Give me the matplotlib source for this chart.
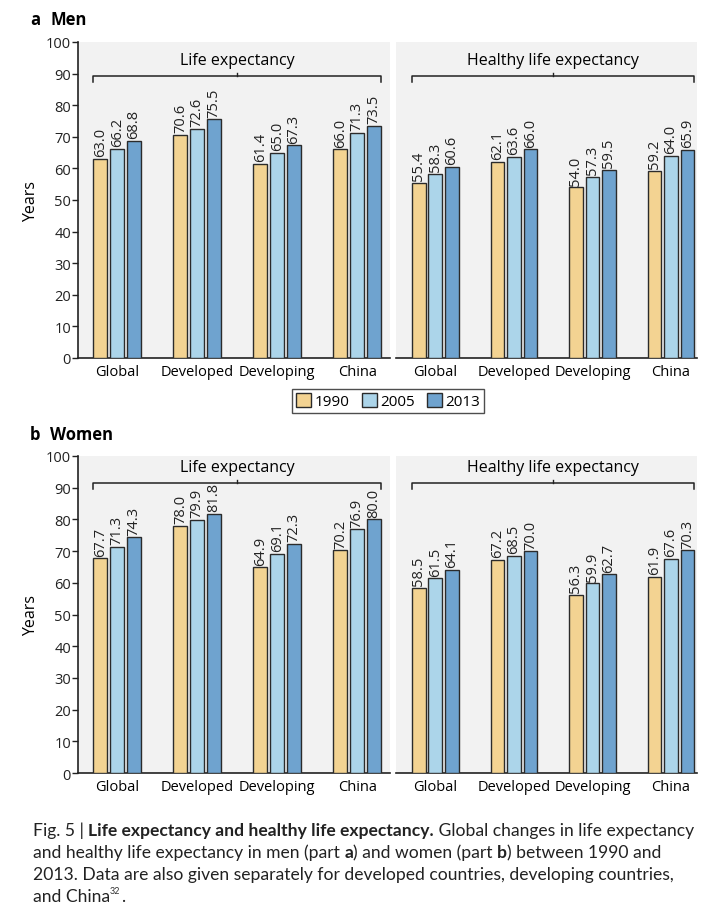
import matplotlib
matplotlib.use("Agg")
import matplotlib.pyplot as plt
from matplotlib.patches import Patch
import numpy as np

regions = ["Global", "Developed", "Developing", "China"]
years = ["1990", "2005", "2013"]

men_le_1990 = [63.0, 70.6, 61.4, 66.0]
men_le_2005 = [66.2, 72.6, 65.0, 71.3]
men_le_2013 = [68.8, 75.5, 67.3, 73.5]
men_hle_1990 = [55.4, 62.1, 54.0, 59.2]
men_hle_2005 = [58.3, 63.6, 57.3, 64.0]
men_hle_2013 = [60.6, 66.0, 59.5, 65.9]

women_le_1990 = [67.7, 78.0, 64.9, 70.2]
women_le_2005 = [71.3, 79.9, 69.1, 76.9]
women_le_2013 = [74.3, 81.8, 72.3, 80.0]
women_hle_1990 = [58.5, 67.2, 56.3, 61.9]
women_hle_2005 = [61.5, 68.5, 59.9, 67.6]
women_hle_2013 = [64.1, 70.0, 62.7, 70.3]

colors = ["#f3d392", "#acd5ea", "#6fa3cf"]
edge = "#2b2b2b"
bg = "#f2f2f2"
FONT = "Open Sans"
plt.rcParams["font.family"] = [FONT, "DejaVu Sans"]

fig = plt.figure(figsize=(7.15, 9.2), dpi=100)

def px(x0, x1, ytop, ybot):
    W, H = 715, 920
    return [x0 / W, 1 - ybot / H, (x1 - x0) / W, (ybot - ytop) / H]

def draw(ax, series, title, xlim, bracket_y, text_y, show_y):
    ax.set_facecolor(bg)
    x = np.arange(len(regions))
    w = 0.175
    off = 0.21
    for i, vals in enumerate(series):
        bars = ax.bar(x + (i - 1) * off, vals, w, color=colors[i], edgecolor=edge, linewidth=1.0, zorder=3)
        for b, v in zip(bars, vals):
            ax.text(b.get_x() + b.get_width() / 2, v + 0.8, f"{v:.1f}", rotation=90,
                    ha="center", va="bottom", fontsize=10.5, color="#222222", zorder=4)
    ax.set_xlim(*xlim)
    ax.set_ylim(0, 100)
    ax.set_xticks(x)
    ax.set_xticklabels(regions, fontsize=10.5)
    ax.tick_params(axis="x", length=0, pad=4)
    for s in ["top", "right"]:
        ax.spines[s].set_visible(False)
    ax.spines["bottom"].set_color("#222222")
    ax.spines["bottom"].set_linewidth(1.2)
    if show_y:
        ax.set_yticks(range(0, 101, 10))
        ax.tick_params(axis="y", length=4, width=1, labelsize=10.5, pad=1, colors="#222222")
        ax.spines["left"].set_color("#222222")
        ax.spines["left"].set_linewidth(1.2)
        ax.set_ylabel("Years", fontsize=11.5, labelpad=5)
    else:
        ax.spines["left"].set_visible(False)
        ax.set_yticks([])
    left = x[0] - off - w / 2
    right = x[-1] + off + w / 2
    mid = (left + right) / 2
    ax.plot([left, left, right, right], [bracket_y - 2, bracket_y, bracket_y, bracket_y - 2],
            color="#222222", lw=1.1, zorder=4, clip_on=False)
    ax.plot([mid, mid], [bracket_y, bracket_y + 0.9], color="#222222", lw=1.0, zorder=4)
    ax.text(mid, text_y, title, ha="center", va="center", fontsize=11.5)

xlim_l = (-0.49, 3.41)
xlim_r = (-0.5, 3.33)

ax1 = fig.add_axes(px(78, 390, 43, 359))
draw(ax1, [men_le_1990, men_le_2005, men_le_2013], "Life expectancy", xlim_l, 89.2, 94.3, True)
ax2 = fig.add_axes(px(396, 697, 43, 359))
draw(ax2, [men_hle_1990, men_hle_2005, men_hle_2013], "Healthy life expectancy", xlim_r, 89.2, 94.3, False)

ax3 = fig.add_axes(px(78, 390, 457, 774))
draw(ax3, [women_le_1990, women_le_2005, women_le_2013], "Life expectancy", xlim_l, 91.5, 96.5, True)
ax4 = fig.add_axes(px(396, 697, 457, 774))
draw(ax4, [women_hle_1990, women_hle_2005, women_hle_2013], "Healthy life expectancy", xlim_r, 91.5, 96.5, False)

handles = [Patch(facecolor=c, edgecolor=edge, linewidth=1.0) for c in colors]
leg = fig.legend(handles, years, loc="center", bbox_to_anchor=(388 / 715, 1 - 402 / 920), ncol=3,
                 fontsize=11, frameon=True, fancybox=False, handlelength=1.0, handleheight=1.0,
                 handletextpad=0.2, columnspacing=0.8, borderpad=0.25, borderaxespad=0)
leg.get_frame().set_edgecolor("#222222")
leg.get_frame().set_linewidth(1.0)

fig.text(30 / 715, 1 - 20 / 920, "a", fontsize=12, fontweight="bold", va="center")
fig.text(50 / 715, 1 - 20 / 920, "Men", fontsize=12, fontweight="bold", va="center")
fig.text(30 / 715, 1 - 435 / 920, "b", fontsize=12, fontweight="bold", va="center")
fig.text(50 / 715, 1 - 435 / 920, "Women", fontsize=12, fontweight="bold", va="center")

# caption with mixed bold segments
cap_lines = [
    [("Fig. 5 | ", "normal"), ("Life expectancy and healthy life expectancy.", "bold"),
     (" Global changes in life expectancy", "normal")],
    [("and healthy life expectancy in men (part ", "normal"), ("a", "bold"),
     (") and women (part ", "normal"), ("b", "bold"), (") between 1990 and", "normal")],
    [("2013. Data are also given separately for developed countries, developing countries,", "normal")],
    [("and China", "normal"), ("32", "super"), (".", "normal")],
]
fig.canvas.draw()
renderer = fig.canvas.get_renderer()
cap_font = "Lato"
cap_size = 12.6
y0 = 831
for li, segs in enumerate(cap_lines):
    xpx = 33
    ypx = y0 + li * 22
    for txt, style in segs:
        if style == "super":
            t = fig.text(xpx / 715, 1 - (ypx - 5) / 920, txt, fontsize=6.5, family=cap_font,
                         va="center", color="#333333")
        else:
            t = fig.text(xpx / 715, 1 - ypx / 920, txt, fontsize=cap_size, family=cap_font,
                         fontweight=style, va="center", color="#222222")
        bb = t.get_window_extent(renderer=renderer)
        xpx += bb.width

fig.savefig("out.png", dpi=100, facecolor="white")
